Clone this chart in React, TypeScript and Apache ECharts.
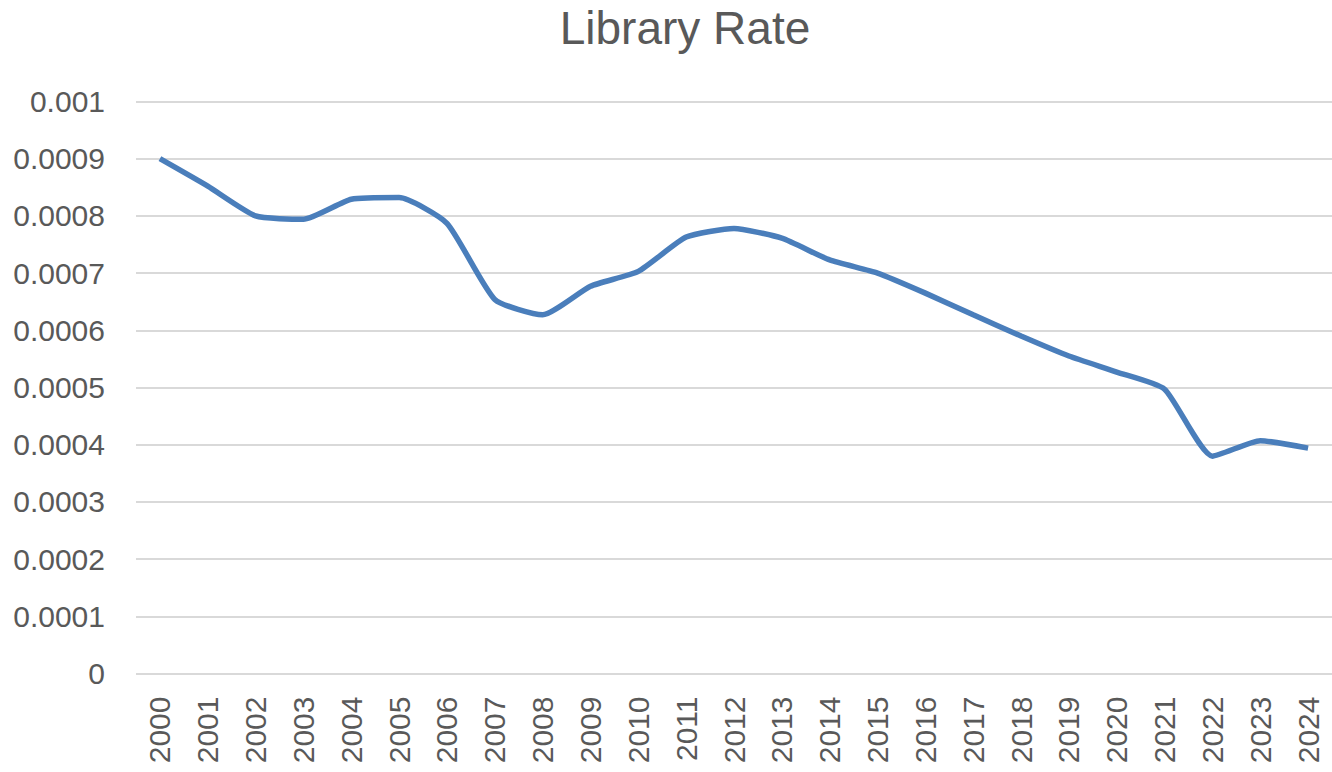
import React, { useEffect, useRef } from "react";
import * as echarts from "echarts";

const years: string[] = [
  "2000", "2001", "2002", "2003", "2004", "2005", "2006", "2007", "2008", "2009",
  "2010", "2011", "2012", "2013", "2014", "2015", "2016", "2017", "2018", "2019",
  "2020", "2021", "2022", "2023", "2024",
];

const libraryRate: number[] = [
  0.0009, 0.000852, 0.0008, 0.000794, 0.000829, 0.000832, 0.000787, 0.000654, 0.000627, 0.000677,
  0.000703, 0.000763, 0.000778, 0.000761, 0.000723, 0.0007, 0.000665, 0.000627, 0.00059, 0.000555,
  0.000527, 0.000497, 0.00038, 0.000407, 0.000394,
];

const titleText = "Library Rate";

export default function App() {
  const ref = useRef<HTMLDivElement>(null);
  useEffect(() => {
    document.body.style.margin = "0";
    if (!ref.current) return;
    const chart = echarts.init(ref.current, undefined, { renderer: "svg" });
    const font = "'Liberation Sans', Arial, sans-serif";
    chart.setOption({
      animation: false,
      backgroundColor: "#ffffff",
      title: {
        text: titleText,
        left: 680,
        textAlign: "center",
        top: 0,
        textStyle: { fontFamily: font, fontSize: 46, fontWeight: "normal", color: "#595959" },
      },
      grid: { left: 136, right: 0, top: 101.5, bottom: 98.5, containLabel: false },
      xAxis: {
        type: "category",
        data: years,
        boundaryGap: true,
        axisLine: { show: false },
        axisTick: { show: false },
        axisLabel: {
          rotate: 90,
          margin: 23,
          interval: 0,
          fontFamily: font,
          fontSize: 30,
          color: "#595959",
        },
      },
      yAxis: {
        type: "value",
        min: 0,
        max: 0.001,
        interval: 0.0001,
        axisLine: { show: false },
        axisTick: { show: false },
        splitLine: { lineStyle: { color: "#d9d9d9", width: 2 } },
        axisLabel: {
          margin: 31,
          fontFamily: font,
          fontSize: 30,
          color: "#595959",
          formatter: (v: number) => (v === 0 ? "0" : String(parseFloat(v.toFixed(4)))),
        },
      },
      series: [
        {
          type: "line",
          data: libraryRate,
          smooth: 0.18,
          symbol: "none",
          lineStyle: { color: "#4a7ebb", width: 5.5 },
        },
      ],
    });
    return () => chart.dispose();
  }, []);
  return <div ref={ref} style={{ width: 1332, height: 772 }} />;
}
